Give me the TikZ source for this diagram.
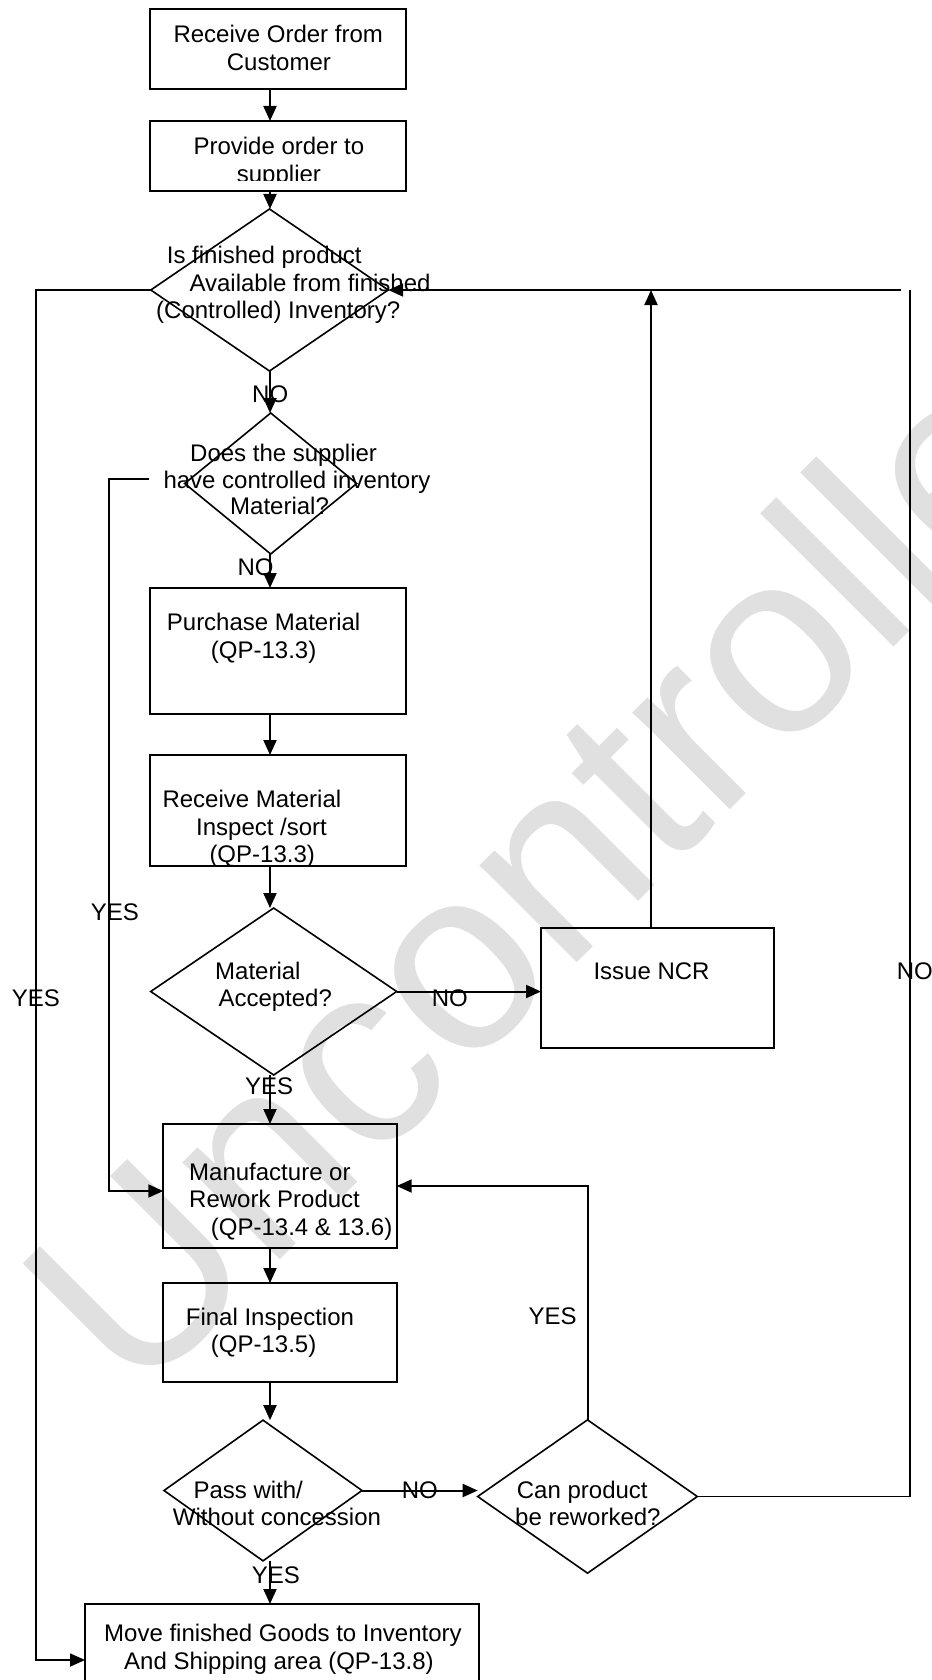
\documentclass[tikz,border=0pt]{standalone}
\usepackage{fontspec}
\setmainfont{Liberation Sans}
\usetikzlibrary{arrows.meta,shapes.geometric}
\definecolor{wmgray}{RGB}{224,224,224}
\begin{document}
\begin{tikzpicture}[x=1pt,y=-1pt,
  box/.style={draw,line width=2pt,rectangle,inner sep=0pt,outer sep=0pt},
  dia/.style={draw,line width=1.6pt,diamond,inner sep=0pt,outer sep=0pt},
  conn/.style={line width=2pt},
  arr/.style={conn,-{Triangle[length=15pt,width=13pt]}},
  loopline/.style={line width=1.7pt},
  looparr/.style={loopline,-{Triangle[length=15pt,width=13pt]}},
  txt/.style={anchor=base west,inner sep=0pt,font=\fontsize{24}{28}\selectfont},
  wmark/.style={anchor=base west,inner sep=0pt,text=wmgray,rotate=45,font=\fontsize{260}{300}\selectfont}]
\clip (0,0) rectangle (931,1680);
\fill[white] (0,0) rectangle (931,1680);
% watermark
\node[wmark] (wm) at (135,1405) {Uncontrolled};
% shapes
\node[box,minimum width=256pt,minimum height=79.7pt] (b1) at (278,49.2) {};
\node[box,minimum width=256pt,minimum height=70pt] (b2) at (278,156) {};
\node[dia,minimum width=237.4pt,minimum height=162pt] (d1) at (269.5,290) {};
\node[dia,minimum width=172pt,minimum height=141pt] (d2) at (270.7,483.5) {};
\node[box,minimum width=256pt,minimum height=126pt] (b3) at (278,651) {};
\node[box,minimum width=256pt,minimum height=111pt] (b4) at (278,810.5) {};
\node[dia,minimum width=246pt,minimum height=167pt] (d3) at (273.7,991.5) {};
\node[box,minimum width=233.3pt,minimum height=119.7pt] (ncr) at (657.7,987.9) {};
\node[box,minimum width=233.4pt,minimum height=124pt] (b5) at (280,1186) {};
\node[box,minimum width=233.4pt,minimum height=99pt] (b6) at (280,1332.5) {};
\node[dia,minimum width=198pt,minimum height=140.7pt] (d4) at (263,1490.5) {};
\node[dia,minimum width=219.6pt,minimum height=153.3pt] (c5) at (587.5,1496.5) {};
\node[box,minimum width=394pt,minimum height=86pt] (b7) at (282,1647) {};
% helper coordinates
\coordinate (col) at (270,0);
\coordinate (nx) at (651,0);
\coordinate (Rgap) at (901,290);
\coordinate (Rtop) at (910,290);
\coordinate (Lx) at (36,1660);
\coordinate (d2L) at (149,479);
\coordinate (Ix) at (109,1191);
% texts
\node[txt] (t1a) at (173.3,42.7) {Receive Order from};
\node[txt] (t1b) at (226.7,70.7) {Customer};
\node[txt] (t2a) at (193.3,155) {Provide order to};
\begin{scope}
\clip (150,121) rectangle (406,180.5);
\node[txt] (t2b) at (236.7,183) {supplier};
\end{scope}
\node[txt] (t3a) at (166.7,263.3) {Is finished product};
\node[txt] (t3b) at (189.3,291.7) {Available from finished};
\node[txt] (t3c) at (156,318.3) {(Controlled) Inventory?};
\node[txt] (no1) at (252,402) {NO};
\node[txt] (t4a) at (190,461.7) {Does the supplier};
\node[txt] (t4b) at (163.3,488.3) {have controlled inventory};
\node[txt] (t4c) at (230,514.3) {Material?};
\node[txt] (no2) at (237.3,575) {NO};
\node[txt] (t5a) at (166.7,630) {Purchase Material};
\node[txt] (t5b) at (210.7,658.3) {(QP-13.3)};
\node[txt] (t6a) at (162.3,807.7) {Receive Material};
\node[txt] (t6b) at (196,835) {Inspect /sort};
\node[txt] (t6c) at (209.3,862.7) {(QP-13.3)};
\node[txt] (yes1) at (90.7,920) {YES};
\node[txt] (t7a) at (215,979) {Material};
\node[txt] (t7b) at (218.3,1006) {Accepted?};
\node[txt] (yes2) at (11.7,1006) {YES};
\node[txt] (no3) at (431.7,1006) {NO};
\node[txt] (yes3) at (245,1094.3) {YES};
\node[txt] (t8) at (593.3,979) {Issue NCR};
\node[txt] (no4) at (896.7,979) {NO};
\node[txt] (t9a) at (189,1180.7) {Manufacture or};
\node[txt] (t9b) at (189,1207.7) {Rework Product};
\node[txt] (t9c) at (210.7,1235) {(QP-13.4 \& 13.6)};
\node[txt] (t10a) at (185.7,1325) {Final Inspection};
\node[txt] (t10b) at (210.7,1352.3) {(QP-13.5)};
\node[txt] (yes4) at (528.3,1324) {YES};
\node[txt] (t11a) at (193.3,1498.3) {Pass with/};
\node[txt] (t11b) at (172.7,1525.7) {Without concession};
\node[txt] (no5) at (401.7,1498.3) {NO};
\node[txt] (yes5) at (251.7,1583.3) {YES};
\node[txt] (t12a) at (516.7,1498.3) {Can product};
\node[txt] (t12b) at (515,1525) {be reworked?};
\node[txt] (t13a) at (104,1641.7) {Move finished Goods to Inventory};
\node[txt] (t13b) at (124,1669) {And Shipping area (QP-13.8)};
% main column connectors
\draw[arr] (b1.south -| col) -- (b2.north -| col);
\draw[arr] (b2.south -| col) -- (d1.north -| col);
\draw[arr] (d1.south -| col) -- (d2.north -| col);
\draw[arr] (d2.south -| col) -- (b3.north -| col);
\draw[arr] (b3.south -| col) -- (b4.north -| col);
\draw[arr] (b4.south -| col) -- (d3.north -| col);
\draw[arr] (d3.south -| col) -- (b5.north -| col);
\draw[arr] (b5.south -| col) -- (b6.north -| col);
\draw[arr] (b6.south -| col) -- (d4.north -| col);
\draw[arr] (d4.south -| col) -- (b7.north -| col);
% side connectors
\draw[arr] (d3.east) -- (d3.east -| ncr.west);
\draw[arr] (d4.east) -- (d4.east -| c5.west);
\draw[arr] (c5.north) |- (b5.east);
\draw[arr] (ncr.north -| nx) -- (d1.east -| nx);
\draw[arr] (Rgap) -- (d1.east);
\draw[loopline] (c5.east) -| (Rtop);
\draw[looparr] (d1.west) -| (Lx) -- (b7.west |- Lx);
\draw[looparr] (d2L) -| (Ix) -- (b5.west |- Ix);
\end{tikzpicture}
\end{document}
